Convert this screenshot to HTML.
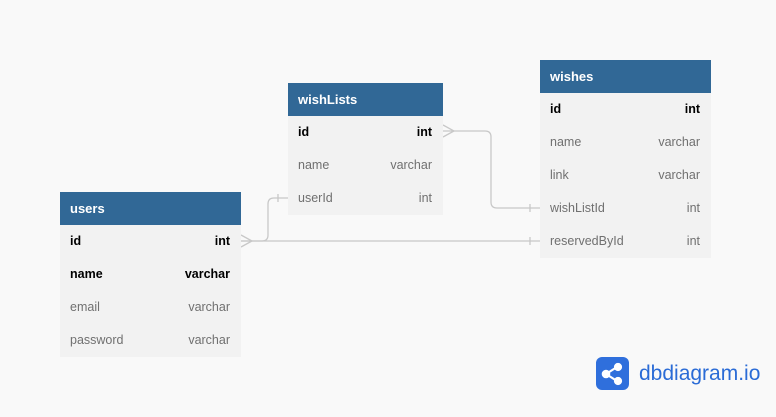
<!DOCTYPE html>
<html><head><style>
body{margin:0;width:776px;height:417px;background:#f9f9f9;font-family:"Liberation Sans",Arial,sans-serif;position:relative;overflow:hidden}
.t{position:absolute;background:#f2f2f2}
.h{background:#316896;color:#fff;font-weight:bold;font-size:13px;height:33px;line-height:33px;padding-left:10px}
.r{height:33px;line-height:33px;font-size:12.5px;color:#707070;display:flex;justify-content:space-between;padding:0 11px 0 10px}
.r.b{color:#000;font-weight:bold}
</style></head><body>
<svg width="776" height="417" style="position:absolute;left:0;top:0">
<g fill="none" stroke="#c8c8c8" stroke-width="1.3">
<path d="M241 241 H262 Q268 241 268 235 V204 Q268 198 274 198 H288"/>
<path d="M241 241 H540"/>
<path d="M443 131 H485 Q491 131 491 137 V202 Q491 208 497 208 H540"/>
<path d="M241 235 L252 241 L241 247"/>
<path d="M443 125 L454 131 L443 137"/>
<path d="M278 194 V202 M530 204 V212 M530 237 V245"/>
</g>
</svg>
<div class="t" style="left:60px;top:192px;width:181px">
<div class="h">users</div>
<div class="r b"><span>id</span><span>int</span></div>
<div class="r b"><span>name</span><span>varchar</span></div>
<div class="r"><span>email</span><span>varchar</span></div>
<div class="r"><span>password</span><span>varchar</span></div>
</div>
<div class="t" style="left:288px;top:83px;width:155px">
<div class="h">wishLists</div>
<div class="r b"><span>id</span><span>int</span></div>
<div class="r"><span>name</span><span>varchar</span></div>
<div class="r"><span>userId</span><span>int</span></div>
</div>
<div class="t" style="left:540px;top:60px;width:171px">
<div class="h">wishes</div>
<div class="r b"><span>id</span><span>int</span></div>
<div class="r"><span>name</span><span>varchar</span></div>
<div class="r"><span>link</span><span>varchar</span></div>
<div class="r"><span>wishListId</span><span>int</span></div>
<div class="r"><span>reservedById</span><span>int</span></div>
</div>
<svg width="34" height="34" style="position:absolute;left:596px;top:357px">
<rect x="0" y="0" width="33" height="33" rx="6" fill="#2f6fdc"/>
<g stroke="#fff" stroke-width="2.2" fill="#fff">
<path d="M10 17 L21 10 M10 17 L21 24" fill="none"/>
<circle cx="10" cy="17" r="3.2"/><circle cx="22" cy="10" r="3"/><circle cx="22" cy="24" r="3"/>
</g>
</svg>
<div style="position:absolute;left:639px;top:362px;font-size:21px;color:#2a6bd6;line-height:24px">dbdiagram.io</div>
</body></html>
